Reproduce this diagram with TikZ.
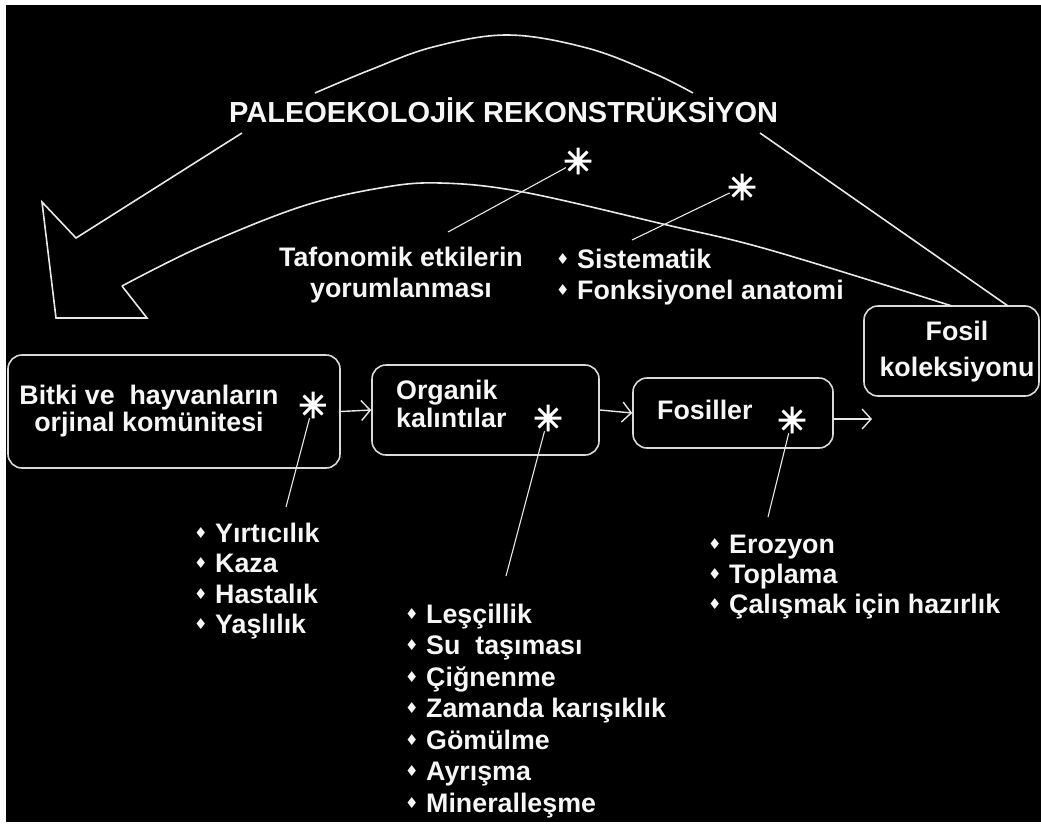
\documentclass[tikz,border=0pt]{standalone}
\usepackage{fontspec}
\setmainfont{Liberation Sans}
\newfontfamily\dv{DejaVu Sans}
\usetikzlibrary{arrows.meta}
\definecolor{linegray}{HTML}{E8E8E8}
\definecolor{boxgray}{HTML}{DADADA}
\definecolor{txtwhite}{HTML}{F6F6F6}
\newcommand\bul{\makebox[21pt][l]{\raisebox{4pt}{\dv\fontsize{15}{15}\selectfont ♦}}}
\begin{document}
\begin{tikzpicture}[x=1pt,y=-1pt,
  txt/.style={inner sep=0pt, text=txtwhite, font=\bfseries\fontsize{26.8}{31}\selectfont},
  box/.style={draw=boxgray, line width=1.6pt, rounded corners=14pt, inner sep=0pt},
  ln/.style={draw=linegray, line width=1.6pt, line join=miter},
  thinln/.style={draw=linegray, line width=1.1pt},
  arr/.style={draw=linegray, line width=1.4pt, -{Straight Barb[length=9pt,width=20pt,line width=1.4pt]}},
  ast/.style={circle, minimum size=27pt, inner sep=0pt, path picture={
    \draw[white, line width=3pt]
      (path picture bounding box.north) -- (path picture bounding box.south)
      (path picture bounding box.east) -- (path picture bounding box.west)
      (path picture bounding box.north east) -- (path picture bounding box.south west)
      (path picture bounding box.north west) -- (path picture bounding box.south east);}}
]
\useasboundingbox (0,0) rectangle (1041,827);
\fill[white] (0,0) rectangle (1041,827);
\fill[black] (6,5) rectangle (1041,822);

% boxes
\node[box, minimum width=332pt, minimum height=113pt] (b1) at (174,411.5) {};
\node[box, minimum width=227pt, minimum height=90pt] (b2) at (485.5,410) {};
\node[box, minimum width=200pt, minimum height=70pt] (b3) at (733,413) {};
\node[box, minimum width=175pt, minimum height=90pt] (fos) at (951.5,351) {};

% box texts (base anchor = baseline of last line)
\node[txt, align=center, anchor=base, font=\bfseries\fontsize{26.8}{27}\selectfont] (t1) at (149,431) {Bitki ve\ \ hayvanların\\orjinal komünitesi};
\node[txt, align=left, anchor=base west, font=\bfseries\fontsize{26.8}{28}\selectfont] (t2) at (396,427) {Organik\\kalıntılar};
\node[txt, anchor=base west] (t3) at (657,419) {Fosiller};
\node[txt, align=center, anchor=base, font=\bfseries\fontsize{26.8}{36}\selectfont] (t4) at (957,376) {Fosil\\koleksiyonu};

% title and upper labels
\node[txt, anchor=base west, font=\bfseries\fontsize{29}{30}\selectfont] (title) at (229,122) {PALEOEKOLOJİK REKONSTRÜKSİYON};
\node[txt, align=center, anchor=base] (taf) at (401,297) {Tafonomik etkilerin\\yorumlanması};
\node[txt, align=left, anchor=base west] (sis) at (556,299) {\bul Sistematik\\\bul Fonksiyonel anatomi};

% lists
\node[txt, align=left, anchor=base west, font=\bfseries\fontsize{26.8}{30.5}\selectfont] (l1) at (194,633.5) {\bul Yırtıcılık\\\bul Kaza\\\bul Hastalık\\\bul Yaşlılık};
\node[txt, align=left, anchor=base west, font=\bfseries\fontsize{26.8}{31.5}\selectfont] (l2) at (405,812) {\bul Leşçillik\\\bul Su\ \ taşıması\\\bul Çiğnenme\\\bul Zamanda karışıklık\\\bul Gömülme\\\bul Ayrışma\\\bul Mineralleşme};
\node[txt, align=left, anchor=base west, font=\bfseries\fontsize{26.8}{30}\selectfont] (l3) at (708,613) {\bul Erozyon\\\bul Toplama\\\bul Çalışmak için hazırlık};

% asterisks
\node[ast] (s1) at (313,405) {};
\node[ast] (s2) at (548,418) {};
\node[ast] (s3) at (792,420) {};
\node[ast] (u1) at (578,161) {};
\node[ast] (u2) at (742,187) {};

% asterisk connectors
\coordinate (e1) at (286,507);
\coordinate (e2) at (506,576);
\coordinate (e3) at (768,517);
\coordinate (e4) at (448,232);
\coordinate (e5) at (632,240);
\draw[thinln] (s1) -- (e1);
\draw[thinln] (s2) -- (e2);
\draw[thinln] (s3) -- (e3);
\draw[thinln] (u1) -- (e4);
\draw[thinln] (u2) -- (e5);

% flow arrows
\coordinate (a3) at (872,419);
\draw[arr] (b1.east) -- (b2.west);
\draw[arr] (b2.east) -- (b3.west);
\draw[arr] (b3.east |- a3) -- (a3);

% big curved arrow
\coordinate (oe) at (1008,306);
\coordinate (ie) at (952,306);
\draw[ln] (oe) -- (760,133);
\draw[ln] plot[smooth, tension=0.6] coordinates {(315,93) (370,70) (433,47) (508,35) (587,48) (653,73) (693,93)};
\draw[ln] (242,133) -- (76,238) -- (42,202) -- (56,318) -- (147,318) -- (122,286);
\draw[ln] plot[smooth, tension=0.6] coordinates {(122,286) (200,247) (300,207) (380,188) (440,183) (523,192) (667,225) (770,250) (952,306)};
\end{tikzpicture}
\end{document}
